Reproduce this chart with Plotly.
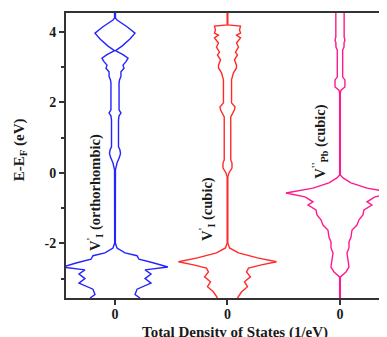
import plotly.graph_objects as go

# Energy grids (eV) and half-widths of DOS (arbitrary units, mirrored spin up/down)
E_orth = [4.54, 4.40, 4.34, 4.15, 3.97, 3.80, 3.60, 3.47, 3.36, 3.26, 3.16, 3.06, 2.97, 2.87,
          2.74, 2.64, 2.55, 1.79, 1.70, 1.62, 1.50, 0.74, 0.65, 0.55, 0.45, 0.28, 0.09,
          -1.99, -2.13, -2.27, -2.35, -2.45, -2.55, -2.67, -2.75, -2.87, -3.00, -3.13,
          -3.30, -3.45, -3.55]
DOS_orth = [0.04, 0.04, 0.18, 1.07, 1.78, 1.33, 0.62, 0.04, 0.71, 1.16, 0.98, 0.71, 0.80, 0.53,
            0.53, 0.40, 0.36, 0.36, 0.53, 0.36, 0.31, 0.31, 0.44, 0.49, 0.40, 0.18, 0.04,
            0.03, 0.18, 0.89, 1.96, 2.13, 3.38, 4.70, 2.67, 3.20, 2.67, 3.20,
            1.96, 1.78, 2.22]

E_cub = [4.54, 4.20, 4.17, 4.06, 3.97, 3.91, 3.83, 3.69, 3.57, 3.43, 3.35, 3.21, 3.06, 2.98,
         2.84, 2.64, 1.99, 1.87, 1.79, 1.70, 1.59, 0.37, 0.28, 0.14, 0.00, -0.11,
         -1.99, -2.13, -2.27, -2.41, -2.52, -2.61, -2.70, -2.81, -2.95, -3.09, -3.23,
         -3.38, -3.52, -3.55]
DOS_cub = [0.03, 0.03, 1.16, 1.07, 1.16, 0.80, 1.16, 0.80, 0.98, 0.71, 0.89, 0.62, 0.80, 0.80,
           0.53, 0.36, 0.36, 0.67, 0.62, 0.49, 0.29, 0.29, 0.40, 0.40, 0.13, 0.03,
           0.03, 0.18, 0.98, 2.67, 4.36, 3.02, 1.87, 1.69, 2.04, 1.51, 1.78,
           1.24, 0.89, 0.89]

E_pb = [4.54, 3.86, 3.77, 3.69, 3.57, 3.49, 2.72, 2.64, 2.44, 2.35, 2.27, -0.06, -0.14,
        -0.28, -0.43, -0.57, -0.68, -0.82, -0.91, -1.05, -1.19, -1.33, -1.48, -1.62,
        -1.82, -1.96, -2.13, -2.27, -2.47, -2.67, -2.81, -2.95, -3.04, -3.55]
DOS_pb = [0.37, 0.37, 0.44, 0.36, 0.36, 0.24, 0.24, 0.44, 0.44, 0.09, 0.03, 0.03, 0.27,
          0.98, 2.40, 4.80, 3.11, 2.40, 2.84, 2.13, 2.04, 1.69, 1.51, 1.07,
          0.98, 0.80, 0.80, 0.62, 0.71, 0.80, 0.53, 0.04, 0.03, 0.03]

offsets = [0, 10, 20]
tick_labels = ["<b>0</b>", "<b>0</b>", "<b>0</b>"]
y_ticks = [-2, 0, 2, 4]
y_tick_labels = ["<b>-2</b>", "<b>0</b>", "<b>2</b>", "<b>4</b>"]
labels = ["V<sup>'</sup><sub>I</sub> (orthorhombic)", "V<sup>'</sup><sub>I</sub> (cubic)",
          "V<sup>''</sup><sub>Pb</sub> (cubic)"]
label_pos = [(-1.78, -0.54), (8.18, -1.02), (18.2, 0.88)]
colors = ["#2424ff", "#ff2a2a", "#ff1a8c"]

series = [(E_orth, DOS_orth), (E_cub, DOS_cub), (E_pb, DOS_pb)]

fig = go.Figure()
for (E, D), off, col in zip(series, offsets, colors):
    xs = [off + d for d in D] + [None] + [off - d for d in D]
    ys = list(E) + [None] + list(E)
    fig.add_trace(go.Scatter(x=xs, y=ys, mode="lines", line=dict(color=col, width=1.4),
                             showlegend=False, hoverinfo="skip"))

lab_font = dict(family="Liberation Serif", size=14.5, color="#1a1a1a")
title_font = dict(family="Liberation Serif", size=15, color="#1a1a1a")
tick_font = dict(family="Liberation Serif", size=14, color="#1a1a1a")

for txt, (lx, ly) in zip(labels, label_pos):
    fig.add_annotation(x=lx, y=ly, text="<b>" + txt + "</b>", textangle=-90, showarrow=False,
                       font=lab_font, xanchor="center", yanchor="middle")

fig.add_annotation(xref="paper", yref="paper", x=0.526, y=-0.122,
                   text="<b>Total Density of States (1/eV)</b>", showarrow=False,
                   font=title_font, xanchor="center", yanchor="middle")
fig.add_annotation(xref="paper", yref="paper", x=-0.143, y=0.519,
                   text="<b>E-E<sub>F</sub> (eV)</b>", showarrow=False, textangle=-90,
                   font=title_font, xanchor="center", yanchor="middle")

# page body has an 8px default margin, so the figure is sized to fit the window
fig.update_layout(
    width=379, height=329,
    margin=dict(l=58, r=0, t=5, b=39),
    paper_bgcolor="white", plot_bgcolor="white",
    xaxis=dict(range=[-4.356, 24.18], tickvals=offsets, ticktext=tick_labels,
               showgrid=False, zeroline=False, showline=True, mirror=True,
               linecolor="#333333", linewidth=2, ticks="outside", ticklen=5,
               tickwidth=2, tickcolor="#333333", ticklabelstandoff=-3,
               tickfont=tick_font),
    yaxis=dict(range=[-3.55, 4.54], tickvals=y_ticks, ticktext=y_tick_labels,
               showgrid=False, zeroline=False, showline=True, mirror=False,
               linecolor="#333333", linewidth=2, ticks="outside", ticklen=5,
               tickwidth=2, tickcolor="#333333",
               minor=dict(tickvals=[-3, -1, 1, 3], ticks="outside", ticklen=3,
                          tickwidth=1.5, tickcolor="#333333"),
               tickfont=tick_font),
)

fig.write_html("out.html")
